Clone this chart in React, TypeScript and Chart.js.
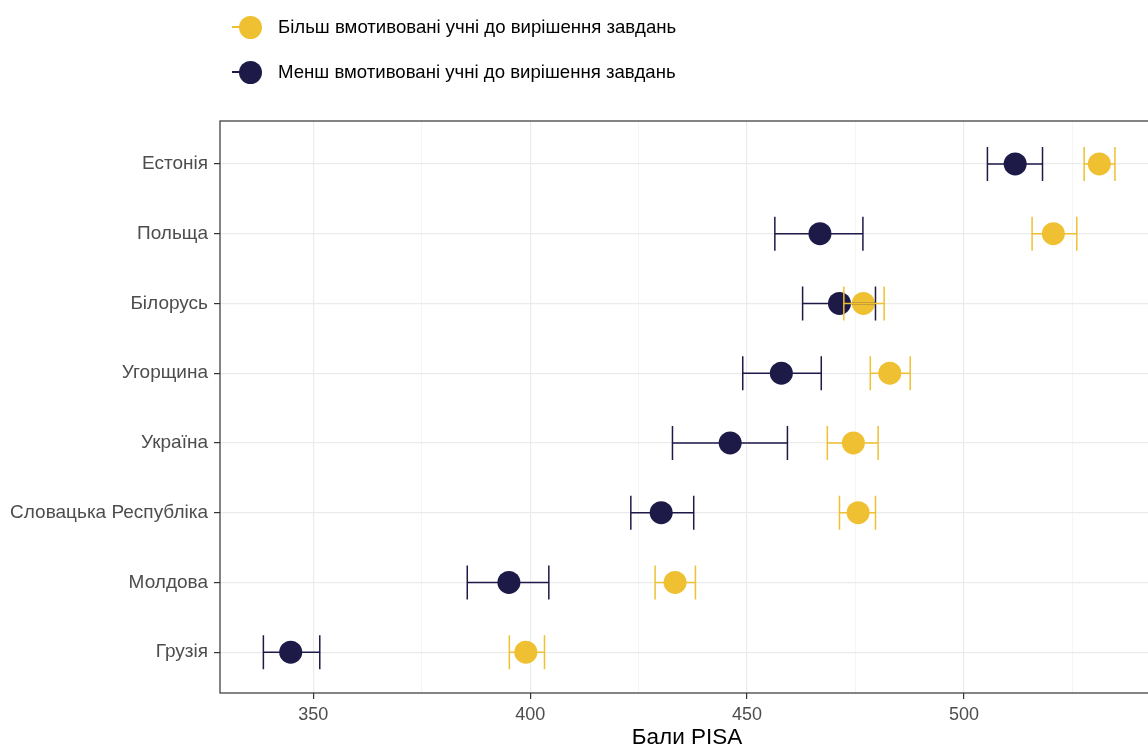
import React, { useEffect, useRef } from "react";
import { Chart, registerables } from "chart.js";

Chart.register(...registerables);

const countries = [
  "Естонія",
  "Польща",
  "Білорусь",
  "Угорщина",
  "Україна",
  "Словацька Республіка",
  "Молдова",
  "Грузія",
];
const moreLabel = "Більш вмотивовані учні до вирішення завдань";
const lessLabel = "Менш вмотивовані учні до вирішення завдань";

const moreMean = [531.2, 520.6, 476.8, 482.9, 474.5, 475.6, 433.4, 399.0];
const moreLow = [527.7, 515.7, 472.3, 478.4, 468.5, 471.3, 428.8, 395.2];
const moreHigh = [534.8, 526.0, 481.6, 487.6, 480.2, 479.6, 438.1, 403.3];

const lessMean = [511.8, 466.8, 471.3, 457.9, 446.1, 430.2, 395.1, 344.8];
const lessLow = [505.4, 456.4, 462.8, 449.0, 432.8, 423.2, 385.5, 338.5];
const lessHigh = [518.1, 476.7, 479.6, 467.1, 459.3, 437.7, 404.3, 351.5];

const xTicks = [350, 375, 400, 425, 450, 475, 500, 525];
const xMin = 328.5;
const xMax = 543.8;

const YELLOW = "#EFC132";
const NAVY = "#1D1A47";
const FONT = "'Liberation Sans', Arial, sans-serif";

const errorSets = [
  { low: lessLow, high: lessHigh, color: NAVY },
  { low: moreLow, high: moreHigh, color: YELLOW },
];

const panelPlugin = {
  id: "panel",
  afterDatasetsDraw(chart: any) {
    const { ctx, chartArea, scales } = chart;
    const xs = scales.x;
    const ys = scales.y;
    ctx.save();
    errorSets.forEach((es) => {
      ctx.strokeStyle = es.color;
      ctx.lineWidth = 1.5;
      for (let i = 0; i < es.low.length; i++) {
        const x1 = xs.getPixelForValue(es.low[i]);
        const x2 = xs.getPixelForValue(es.high[i]);
        const y = ys.getPixelForValue(i);
        ctx.beginPath();
        ctx.moveTo(x1, y);
        ctx.lineTo(x2, y);
        ctx.moveTo(x1, y - 17);
        ctx.lineTo(x1, y + 17);
        ctx.moveTo(x2, y - 17);
        ctx.lineTo(x2, y + 17);
        ctx.stroke();
      }
    });
    ctx.restore();
    ctx.save();
    ctx.strokeStyle = "#333333";
    ctx.lineWidth = 1.2;
    ctx.strokeRect(chartArea.left, chartArea.top, chartArea.right - chartArea.left, chartArea.bottom - chartArea.top);
    ctx.restore();
  },
};

export default function App() {
  const ref = useRef<HTMLCanvasElement>(null);

  useEffect(() => {
    if (!ref.current) return;
    const chart = new Chart(ref.current, {
      type: "scatter",
      data: {
        datasets: [
          {
            label: lessLabel,
            data: lessMean.map((v, i) => ({ x: v, y: i })),
            backgroundColor: NAVY,
            borderColor: NAVY,
            pointRadius: 11.5,
            pointBorderWidth: 0,
          },
          {
            label: moreLabel,
            data: moreMean.map((v, i) => ({ x: v, y: i })),
            backgroundColor: YELLOW,
            borderColor: YELLOW,
            pointRadius: 11.5,
            pointBorderWidth: 0,
          },
        ],
      },
      options: {
        responsive: false,
        animation: false,
        layout: { autoPadding: false, padding: { top: 121, left: 0, right: 0, bottom: 0 } },
        plugins: {
          legend: { display: false },
          tooltip: { enabled: false },
        },
        scales: {
          x: {
            type: "linear",
            min: xMin,
            max: xMax,
            afterBuildTicks: (scale: any) => {
              scale.ticks = xTicks.map((v) => ({ value: v }));
            },
            afterFit: (scale: any) => {
              scale.height = 56;
              scale.paddingLeft = 0;
              scale.paddingRight = 0;
            },
            border: { display: false },
            grid: {
              color: (c: any) => (c.tick && c.tick.value % 50 === 0 ? "#EBEBEB" : "#F3F3F3"),
              lineWidth: (c: any) => (c.tick && c.tick.value % 50 === 0 ? 1.2 : 0.8),
              tickColor: (c: any) => (c.tick && c.tick.value % 50 === 0 ? "#333333" : "rgba(0,0,0,0)"),
              tickLength: 6,
              drawTicks: true,
            },
            ticks: {
              autoSkip: false,
              maxRotation: 0,
              padding: 5,
              color: "#4D4D4D",
              font: { family: FONT, size: 18 },
              callback: (v: any) => (Number(v) % 50 === 0 ? String(v) : ""),
            },
            title: {
              display: true,
              text: "Бали PISA",
              color: "#000000",
              font: { family: FONT, size: 22.5, lineHeight: 1.0 },
              padding: { top: 0, bottom: 0 },
            },
          },
          y: {
            type: "linear",
            reverse: true,
            min: -0.615,
            max: 7.585,
            afterBuildTicks: (scale: any) => {
              scale.ticks = countries.map((_, i) => ({ value: i }));
            },
            afterFit: (scale: any) => {
              scale.width = 220;
              scale.paddingTop = 0;
              scale.paddingBottom = 0;
            },
            border: { display: false },
            grid: {
              color: "#EBEBEB",
              lineWidth: 1.2,
              tickColor: "#333333",
              tickLength: 6,
              drawTicks: true,
            },
            ticks: {
              autoSkip: false,
              padding: 6,
              color: "#4D4D4D",
              font: { family: FONT, size: 19 },
              callback: (v: any) => countries[Number(v)] ?? "",
            },
          },
        },
      },
      plugins: [panelPlugin],
    });
    return () => chart.destroy();
  }, []);

  const legendItem = (label: string, color: string, cy: number) => (
    <div style={{ position: "absolute", left: 0, top: cy - 12, height: 24, width: 760 }}>
      <div style={{ position: "absolute", left: 232, top: 11.25, width: 16, height: 1.5, background: color }} />
      <div
        style={{
          position: "absolute",
          left: 238.5,
          top: 0.5,
          width: 23,
          height: 23,
          borderRadius: "50%",
          background: color,
        }}
      />
      <span
        style={{
          position: "absolute",
          left: 278,
          top: 0,
          lineHeight: "24px",
          fontSize: 18.6,
          fontFamily: FONT,
          color: "#000000",
          whiteSpace: "nowrap",
        }}
      >
        {label}
      </span>
    </div>
  );

  return (
    <div
      style={{
        position: "fixed",
        left: 0,
        top: 0,
        width: 1148,
        height: 749,
        overflow: "hidden",
        background: "#ffffff",
      }}
    >
      <canvas ref={ref} width={1154} height={749} style={{ position: "absolute", left: 0, top: 0, width: 1154, height: 749 }} />
      {legendItem(moreLabel, YELLOW, 27)}
      {legendItem(lessLabel, NAVY, 72)}
    </div>
  );
}
